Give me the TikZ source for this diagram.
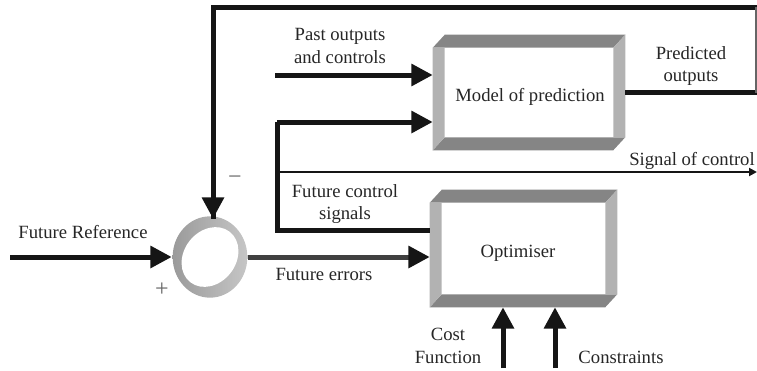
\documentclass[tikz,border=0pt]{standalone}
\usepackage{fontspec}
\setmainfont{Liberation Serif}
\usetikzlibrary{arrows.meta,calc}
\definecolor{txt}{HTML}{262626}
\definecolor{bevdark}{HTML}{858585}
\definecolor{bevlight}{HTML}{B2B2B2}
\definecolor{ringdark}{HTML}{9A9A9A}
\definecolor{ringlight}{HTML}{C6C6C6}
\definecolor{wirecol}{HTML}{151515}
\definecolor{wiregray}{HTML}{404040}
\newcommand\bevelbox[1]{%
  \fill[bevdark] ($(#1.north west)+(12,0)$) -- (#1.north east) -- ($(#1.north east)+(-12,13)$) -- ($(#1.north west)+(0,13)$) -- cycle;
  \fill[bevdark] ($(#1.south west)+(12,-13)$) -- ($(#1.south east)+(0,-13)$) -- ($(#1.south east)+(-12,0)$) -- (#1.south west) -- cycle;
  \fill[bevlight] ($(#1.north west)+(0,13)$) -- ($(#1.north west)+(12,13)$) -- ($(#1.south west)+(12,-13)$) -- (#1.south west) -- cycle;
  \fill[bevlight] ($(#1.north east)+(-12,13)$) -- (#1.north east) -- ($(#1.south east)+(0,-13)$) -- ($(#1.south east)+(-12,-13)$) -- cycle;
  \fill[white] ($(#1.north west)+(12,13)$) rectangle ($(#1.south east)+(-12,-13)$);
}
\begin{document}
\begin{tikzpicture}[x=0.75pt,y=-0.75pt,
  wire/.style={line width=3.75pt, draw=wirecol},
  graywire/.style={line width=3.75pt, draw=wiregray},
  thinwire/.style={line width=2.2pt, draw=wirecol},
  edgewire/.style={line width=1pt, draw=black!60},
  tip/.style={-{Triangle[length=16pt,width=16pt]}},
  smalltip/.style={-{Triangle[length=6pt,width=6pt]}},
  lbl/.style={text=txt, font=\fontsize{14}{17}\selectfont, inner sep=0pt, align=center},
  signlbl/.style={text=black!60, font=\fontsize{18}{20}\selectfont, inner sep=0pt},
  boxnode/.style={rectangle, draw=none, inner sep=0pt},
  junction/.style={circle, draw=none, minimum size=57pt, inner sep=0pt}]
\useasboundingbox (0,0) rectangle (757,371);

% blocks
\node[boxnode, minimum width=144pt, minimum height=86.25pt] (model) at (529,92.5) {};
\node[boxnode, minimum width=140.25pt, minimum height=87.75pt] (opt) at (523.5,248.5) {};
\bevelbox{model}
\bevelbox{opt}
\node[lbl] (modeltxt) at (530,97) {Model of prediction};
\node[lbl] (opttxt) at (518,253) {Optimiser};

% summing junction
\node[junction] (sum) at (210,257) {};
\shade[shading angle=60, left color=ringdark, right color=ringlight] (sum.center) ellipse [x radius=28pt, y radius=30.5pt];
\fill[white, rotate around={52:(sum.center)}] (sum.center) ellipse [x radius=24pt, y radius=19.5pt];

% coordinates
\coordinate (ref) at (10,257);
\coordinate (past) at (275,75);
\coordinate (fc) at (277,122);
\coordinate (fcb) at (277,230);
\coordinate (sc) at (277,172);
\coordinate (sce) at (757,172);
\coordinate (pr) at (760,92.5);
\coordinate (tr) at (760,7);
\coordinate (tl) at (213,7);
\coordinate (er) at (756,7);
\coordinate (ebr) at (756,92.5);
\coordinate (c1) at (503,368);
\coordinate (c2) at (555,368);

% connectors
\draw[wire] (model.east) -- (pr);
\draw[wire, line join=miter] (tr) -- (tl) -- (tl |- sum.north);
\draw[edgewire] (er) -- (ebr);
\draw[wire, tip] (tl |- 0,190) -- (tl |- sum.north);
\draw[wire, tip] (past) -- (past -| model.west);
\draw[wire, tip] (fc) -- (fc -| model.west);
\draw[wire, line join=miter] (fc) -- (fcb) -- (fcb -| opt.west);
\draw[thinwire, smalltip] (sc) -- (sce);
\draw[wire, tip] (ref) -- (sum.west);
\draw[graywire] (sum.east) -- ($(sum.east -| opt.west)+(-14,0)$);
\draw[wire, tip] ($(sum.east -| opt.west)+(-20,0)$) -- (sum.east -| opt.west);
\draw[wire, tip] (c1) -- (c1 |- opt.south);
\draw[wire, tip] (c2) -- (c2 |- opt.south);

% labels
\node[lbl] (pastlbl) at (340,46) {Past outputs\\and controls};
\node[lbl] (predlbl) at (691,66) {Predicted\\outputs};
\node[lbl] (sclbl) at (692,161) {Signal of control};
\node[lbl] (fclbl) at (345,204) {Future control\\signals};
\node[lbl] (reflbl) at (83,232) {Future Reference};
\node[lbl] (errlbl) at (324,274) {Future errors};
\node[lbl] (costlbl) at (448,346) {Cost\\Function};
\node[lbl] (conlbl) at (621,357) {Constraints};
\node[signlbl] (minus) at (235,180) {−};
\node[signlbl] (plus) at (162,290) {+};
\end{tikzpicture}
\end{document}
